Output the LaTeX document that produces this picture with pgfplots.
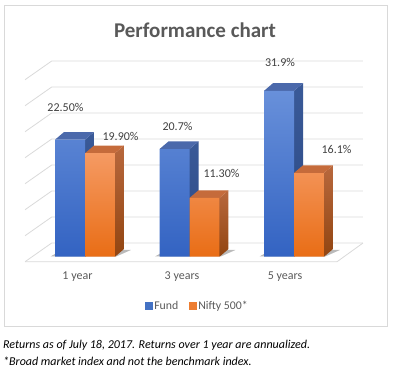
\documentclass[border=0pt]{standalone}
\usepackage{pgfplots}
\pgfplotsset{compat=1.18}
\usepackage{fontspec}
\setmainfont{Carlito}
\definecolor{fundtop}{HTML}{6890DA}
\definecolor{fundbot}{HTML}{3363C2}
\definecolor{fundsidetop}{HTML}{3A5A98}
\definecolor{fundsidebot}{HTML}{2A4884}
\definecolor{fundcap}{HTML}{4B69AB}
\definecolor{orgtop}{HTML}{F59A63}
\definecolor{orgbot}{HTML}{E96D15}
\definecolor{orgsidetop}{HTML}{B8683D}
\definecolor{orgsidebot}{HTML}{924511}
\definecolor{orgcap}{HTML}{C56B3B}
\definecolor{gridgray}{HTML}{D9D9D9}
\definecolor{txt}{HTML}{595959}
\definecolor{lbl}{HTML}{404040}
\definecolor{legblue}{HTML}{4472C4}
\definecolor{legorg}{HTML}{ED7D31}
\begin{document}
\begin{tikzpicture}
\begin{axis}[
  x=104.5pt, y=5.2pt,
  xmin=-0.8134, xmax=2.9474, ymin=-22.69, ymax=49.37,
  axis lines=none, ticks=none, clip=false,
  legend columns=2,
  legend style={at={(axis cs:1.077,-9.42)}, anchor=center, draw=none, fill=none,
    font=\fontsize{11.8}{13}\selectfont\color{txt},
    /tikz/every even column/.append style={column sep=9pt},
    legend cell align=left, inner sep=0pt},
]
% background border
\path (axis cs:-0.8134,-22.69) rectangle (axis cs:2.9474,49.37);
\draw[gridgray, line width=0.9pt] (axis cs:-0.775,48.40) rectangle (axis cs:2.890,-13.33);
% back wall gridlines (0..35 step 5)
\addplot[gridgray, line width=0.8pt, forget plot] coordinates {(-0.574,-0.962) (-0.319,2.635) (2.660,2.635)};
\addplot[gridgray, line width=0.8pt, forget plot] coordinates {(-0.574,4.038) (-0.319,7.635) (2.660,7.635)};
\addplot[gridgray, line width=0.8pt, forget plot] coordinates {(-0.574,9.038) (-0.319,12.635) (2.660,12.635)};
\addplot[gridgray, line width=0.8pt, forget plot] coordinates {(-0.574,14.038) (-0.319,17.635) (2.660,17.635)};
\addplot[gridgray, line width=0.8pt, forget plot] coordinates {(-0.574,19.038) (-0.319,22.635) (2.660,22.635)};
\addplot[gridgray, line width=0.8pt, forget plot] coordinates {(-0.574,24.038) (-0.319,27.635) (2.660,27.635)};
\addplot[gridgray, line width=0.8pt, forget plot] coordinates {(-0.574,29.038) (-0.319,32.635) (2.660,32.635)};
\addplot[gridgray, line width=0.8pt, forget plot] coordinates {(-0.574,34.038) (-0.319,37.635) (2.660,37.635)};
% floor edges
\addplot[gridgray, line width=0.8pt, forget plot] coordinates {(-0.574,-0.962) (2.4115,-0.962) (2.660,2.635)};
% shadows on floor
\addplot[fill=black!60, draw=none, opacity=0.45, forget plot] coordinates {(-0.33,0.05) (0.30,0.05) (0.44,1.3) (-0.22,1.3)};
\addplot[fill=black!60, draw=none, opacity=0.45, forget plot] coordinates {(0.67,0.05) (1.30,0.05) (1.44,1.3) (0.78,1.3)};
\addplot[fill=black!60, draw=none, opacity=0.45, forget plot] coordinates {(1.67,0.05) (2.30,0.05) (2.44,1.3) (1.78,1.3)};
% Fund side faces
\addplot[draw=none, top color=fundsidetop, bottom color=fundsidebot, forget plot] coordinates {(0,0) (0.0861,1.48) (0.0861,23.98) (0,22.5)};
\addplot[draw=none, top color=fundsidetop, bottom color=fundsidebot, forget plot] coordinates {(1,0) (1.0861,1.48) (1.0861,22.18) (1,20.7)};
\addplot[draw=none, top color=fundsidetop, bottom color=fundsidebot, forget plot] coordinates {(2,0) (2.0861,1.48) (2.0861,33.38) (2,31.9)};
% Fund top faces
\addplot[draw=none, fill=fundcap, forget plot] coordinates {(-0.287,22.5) (0,22.5) (0.0861,23.98) (-0.2009,23.98)};
\addplot[draw=none, fill=fundcap, forget plot] coordinates {(0.713,20.7) (1,20.7) (1.0861,22.18) (0.7991,22.18)};
\addplot[draw=none, fill=fundcap, forget plot] coordinates {(1.713,31.9) (2,31.9) (2.0861,33.38) (1.7991,33.38)};
% Fund front faces
\addplot[ybar, bar width=0.287, bar shift=-0.1435, draw=none, top color=fundtop, bottom color=fundbot, forget plot]
  coordinates {(0,22.5) (1,20.7) (2,31.9)};
% Nifty side faces
\addplot[draw=none, top color=orgsidetop, bottom color=orgsidebot, forget plot] coordinates {(0.287,0) (0.3731,1.48) (0.3731,21.38) (0.287,19.9)};
\addplot[draw=none, top color=orgsidetop, bottom color=orgsidebot, forget plot] coordinates {(1.287,0) (1.3731,1.48) (1.3731,12.78) (1.287,11.3)};
\addplot[draw=none, top color=orgsidetop, bottom color=orgsidebot, forget plot] coordinates {(2.287,0) (2.3731,1.48) (2.3731,17.58) (2.287,16.1)};
% Nifty top faces
\addplot[draw=none, fill=orgcap, forget plot] coordinates {(0,19.9) (0.287,19.9) (0.3731,21.38) (0.0861,21.38)};
\addplot[draw=none, fill=orgcap, forget plot] coordinates {(1,11.3) (1.287,11.3) (1.3731,12.78) (1.0861,12.78)};
\addplot[draw=none, fill=orgcap, forget plot] coordinates {(2,16.1) (2.287,16.1) (2.3731,17.58) (2.0861,17.58)};
% Nifty front faces
\addplot[ybar, bar width=0.287, bar shift=0.1435, draw=none, top color=orgtop, bottom color=orgbot, forget plot]
  coordinates {(0,19.9) (1,11.3) (2,16.1)};
% legend
\addlegendimage{legend image code/.code={\fill[legblue] (0pt,-3.2pt) rectangle (6.5pt,3.3pt);}}
\addlegendentry{Fund}
\addlegendimage{legend image code/.code={\fill[legorg] (0pt,-3.2pt) rectangle (6.5pt,3.3pt);}}
\addlegendentry{Nifty 500*}
% title
\node[font=\fontsize{21}{24}\selectfont\bfseries, text=txt] at (axis cs:1.053,43.65) {Performance chart};
% data labels
\begin{scope}[every node/.style={font=\fontsize{12}{14}\selectfont, text=lbl, inner sep=0pt}]
\node at (axis cs:-0.187,28.65) {22.50\%};
\node at (axis cs:0.340,23.08) {19.90\%};
\node at (axis cs:0.885,25.0) {20.7\%};
\node at (axis cs:1.306,15.96) {11.30\%};
\node at (axis cs:1.866,37.31) {31.9\%};
\node at (axis cs:2.407,20.58) {16.1\%};
\end{scope}
% category labels
\begin{scope}[every node/.style={font=\fontsize{12}{14}\selectfont, text=txt, inner sep=0pt}]
\node at (axis cs:-0.072,-3.85) {1 year};
\node at (axis cs:0.928,-3.85) {3 years};
\node at (axis cs:1.914,-3.85) {5 years};
\end{scope}
% footnote
\begin{scope}[every node/.style={font=\fontsize{12}{14}\selectfont\itshape, text=black, inner sep=0pt, anchor=west}]
\node at (axis cs:-0.785,-17.12) {Returns as of July 18, 2017. Returns over 1 year are annualized.};
\node at (axis cs:-0.785,-20.19) {*Broad market index and not the benchmark index.};
\end{scope}
\end{axis}
\end{tikzpicture}
\end{document}
